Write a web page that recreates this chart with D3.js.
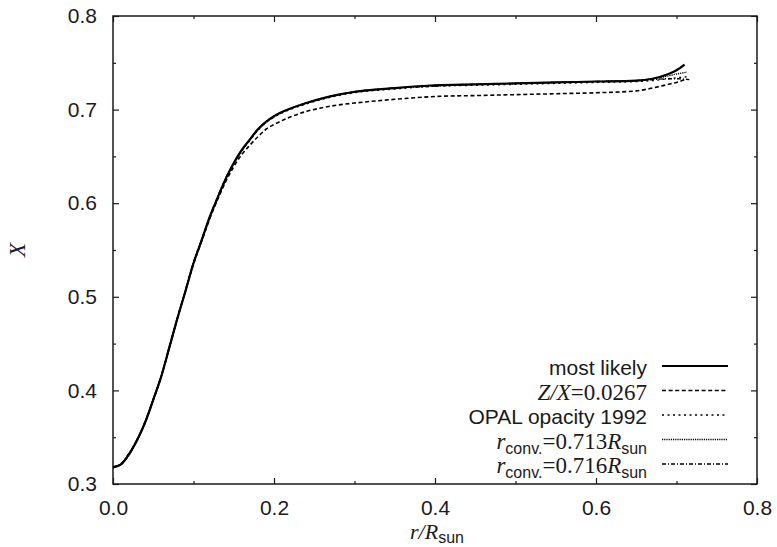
<!DOCTYPE html>
<html>
<head>
<meta charset="utf-8">
<script src="https://cdn.jsdelivr.net/npm/d3@7"></script>
<style>
  body { margin: 0; background: #fff; }
  svg { display: block; }
</style>
</head>
<body>
<svg id="chart" width="777" height="547"></svg>
<script>
// hydrogen abundance X vs radius, five solar models

const rGrid = [0, 0.01, 0.02, 0.03, 0.04, 0.05, 0.06, 0.07, 0.08, 0.09, 0.10,
  0.11, 0.12, 0.13, 0.14, 0.15, 0.16, 0.17, 0.18, 0.19, 0.20,
  0.22, 0.24, 0.26, 0.28, 0.30, 0.35, 0.40, 0.45, 0.50, 0.55, 0.60, 0.65,
  0.67, 0.69, 0.70];

const xMostLikely = [0.318, 0.321, 0.332, 0.347, 0.366, 0.390, 0.415, 0.446, 0.477, 0.506, 0.536,
  0.560, 0.585, 0.606, 0.626, 0.643, 0.657, 0.668, 0.679, 0.687, 0.693,
  0.701, 0.707, 0.712, 0.716, 0.719, 0.723, 0.726, 0.727, 0.728, 0.729, 0.730, 0.731,
  0.733, 0.738, 0.742];
const xZX = [0.318, 0.321, 0.332, 0.347, 0.366, 0.390, 0.415, 0.446, 0.477, 0.506, 0.535,
  0.559, 0.583, 0.604, 0.623, 0.639, 0.652, 0.662, 0.671, 0.679, 0.684,
  0.692, 0.698, 0.702, 0.705, 0.707, 0.711, 0.714, 0.715, 0.716, 0.717, 0.718, 0.720,
  0.723, 0.727, 0.729];
const xOPAL = [0.318, 0.321, 0.332, 0.347, 0.366, 0.390, 0.416, 0.446, 0.477, 0.507, 0.536,
  0.561, 0.585, 0.606, 0.626, 0.642, 0.656, 0.667, 0.678, 0.686, 0.692,
  0.700, 0.706, 0.711, 0.715, 0.718, 0.722, 0.725, 0.726, 0.727, 0.728, 0.729, 0.730,
  0.731, 0.733, 0.734];
const xConv713 = [0.317, 0.321, 0.331, 0.346, 0.366, 0.389, 0.415, 0.445, 0.476, 0.506, 0.535,
  0.560, 0.584, 0.605, 0.625, 0.642, 0.656, 0.668, 0.678, 0.686, 0.692,
  0.701, 0.707, 0.712, 0.716, 0.719, 0.723, 0.726, 0.727, 0.728, 0.729, 0.730, 0.731,
  0.733, 0.736, 0.738];
const xConv716 = [0.318, 0.322, 0.333, 0.348, 0.367, 0.391, 0.416, 0.447, 0.478, 0.507, 0.537,
  0.561, 0.585, 0.607, 0.627, 0.643, 0.657, 0.668, 0.679, 0.687, 0.693,
  0.701, 0.707, 0.712, 0.716, 0.719, 0.723, 0.725, 0.727, 0.728, 0.729, 0.730, 0.731,
  0.732, 0.733, 0.733];

// last point of each model (base of convection zone)
const rEnd = [0.71, 0.71, 0.713, 0.713, 0.716];
const xEnd = [0.748, 0.732, 0.735, 0.740, 0.732];

const xTicksMajor = [0, 0.2, 0.4, 0.6, 0.8];
const xTicksMinor = [0.1, 0.3, 0.5, 0.7];
const yTicksMajor = [0.3, 0.4, 0.5, 0.6, 0.7, 0.8];
const yTicksMinor = [0.35, 0.45, 0.55, 0.65, 0.75];

const dashes = [null, '4,2.6', '2,3.5', '1.2,1', '4,2,1,2'];
const widths = [2.2, 1.6, 1.4, 1.4, 1.4];

const svg = d3.select('#chart');
const margin = { left: 113, right: 20, top: 16, bottom: 63 };
const W = 777, H = 547;

const x = d3.scaleLinear().domain([0, 0.8]).range([margin.left, W - margin.right]);
const y = d3.scaleLinear().domain([0.3, 0.8]).range([H - margin.bottom, margin.top]);

const series = [xMostLikely, xZX, xOPAL, xConv713, xConv716].map((vals, i) => {
    const pts = rGrid.map((r, j) => [r, vals[j]]);
    pts.push([rEnd[i], xEnd[i]]);
    return pts;
});

const sans = "'Liberation Sans', Arial, Helvetica, sans-serif";
const serif = "'Liberation Serif', 'Times New Roman', serif";
const ink = '#1a1a1a';

// ticks on all four sides, pointing inward
function addAxis(gen, tr, vals, size, labels, pad) {
    const g = svg.append('g')
        .attr('transform', tr)
        .call(gen.tickValues(vals).tickSize(size).tickPadding(pad)
            .tickFormat(labels ? d3.format('.1f') : ''));
    g.select('.domain').remove();
    g.selectAll('line').attr('stroke', ink).attr('stroke-width', 1.2);
    g.selectAll('text').attr('fill', ink).style('font-family', sans).style('font-size', '21px');
    return g;
}
const bottomY = y(0.3), topY = y(0.8), leftX = x(0), rightX = x(0.8);

addAxis(d3.axisBottom(x), `translate(0,${bottomY})`, xTicksMajor, -6, true, 16);
addAxis(d3.axisBottom(x), `translate(0,${bottomY})`, xTicksMinor, -3, false, 0);
addAxis(d3.axisTop(x), `translate(0,${topY})`, xTicksMajor, -6, false, 0);
addAxis(d3.axisTop(x), `translate(0,${topY})`, xTicksMinor, -3, false, 0);
addAxis(d3.axisLeft(y), `translate(${leftX},0)`, yTicksMajor, -6, true, 16);
addAxis(d3.axisLeft(y), `translate(${leftX},0)`, yTicksMinor, -3, false, 0);
addAxis(d3.axisRight(y), `translate(${rightX},0)`, yTicksMajor, -6, false, 0);
addAxis(d3.axisRight(y), `translate(${rightX},0)`, yTicksMinor, -3, false, 0);

svg.append('rect')
    .attr('x', leftX).attr('y', topY)
    .attr('width', rightX - leftX).attr('height', bottomY - topY)
    .attr('fill', 'none').attr('stroke', ink).attr('stroke-width', 1.5);

// curves
const line = d3.line().x(d => x(d[0])).y(d => y(d[1])).curve(d3.curveMonotoneX);

svg.append('g').selectAll('path')
    .data(series)
    .enter()
    .append('path')
    .attr('d', line)
    .attr('fill', 'none')
    .attr('stroke', '#000')
    .attr('stroke-width', (d, i) => widths[i])
    .attr('stroke-dasharray', (d, i) => dashes[i]);

// legend
const legendRows = [
    [{ t: 'most likely', f: sans }],
    [{ t: 'Z/X', f: serif, it: true }, { t: '=0.0267', f: serif }],
    [{ t: 'OPAL opacity 1992', f: sans }],
    [{ t: 'r', f: serif, it: true }, { t: 'conv.', f: sans, sub: true },
     { t: '=0.713', f: serif }, { t: 'R', f: serif, it: true }, { t: 'sun', f: sans, sub: true }],
    [{ t: 'r', f: serif, it: true }, { t: 'conv.', f: sans, sub: true },
     { t: '=0.716', f: serif }, { t: 'R', f: serif, it: true }, { t: 'sun', f: sans, sub: true }]
];

const legendTextX = 647, legendY0 = 375, legendStep = 24.5;

legendRows.forEach((parts, i) => {
    const by = legendY0 + i * legendStep;
    const txt = svg.append('text')
        .attr('x', legendTextX).attr('y', by)
        .attr('text-anchor', 'end')
        .attr('fill', ink);
    let shifted = false;
    parts.forEach(p => {
        const ts = txt.append('tspan').text(p.t)
            .style('font-family', p.f)
            .style('font-size', p.sub ? '16px' : (p.f === serif ? '23px' : '21px'))
            .style('font-style', p.it ? 'italic' : 'normal');
        if (p.sub && !shifted) { ts.attr('dy', 5); shifted = true; }
        else if (!p.sub && shifted) { ts.attr('dy', -5); shifted = false; }
    });
    svg.append('line')
        .attr('x1', 662).attr('x2', 728)
        .attr('y1', by - 9).attr('y2', by - 9)
        .attr('stroke', '#000')
        .attr('stroke-width', widths[i])
        .attr('stroke-dasharray', dashes[i]);
});

// axis titles
const xt = svg.append('text')
    .attr('x', 437).attr('y', 539)
    .attr('text-anchor', 'middle')
    .attr('fill', ink);
xt.append('tspan').text('r/R').style('font-family', serif).style('font-style', 'italic').style('font-size', '22px');
xt.append('tspan').text('sun').attr('dy', 4).style('font-family', sans).style('font-size', '16px');

svg.append('text')
    .attr('transform', 'translate(25,250) rotate(-90)')
    .attr('text-anchor', 'middle')
    .attr('fill', ink)
    .style('font-family', serif)
    .style('font-style', 'italic')
    .style('font-size', '23px')
    .text('X');
</script>
</body>
</html>
